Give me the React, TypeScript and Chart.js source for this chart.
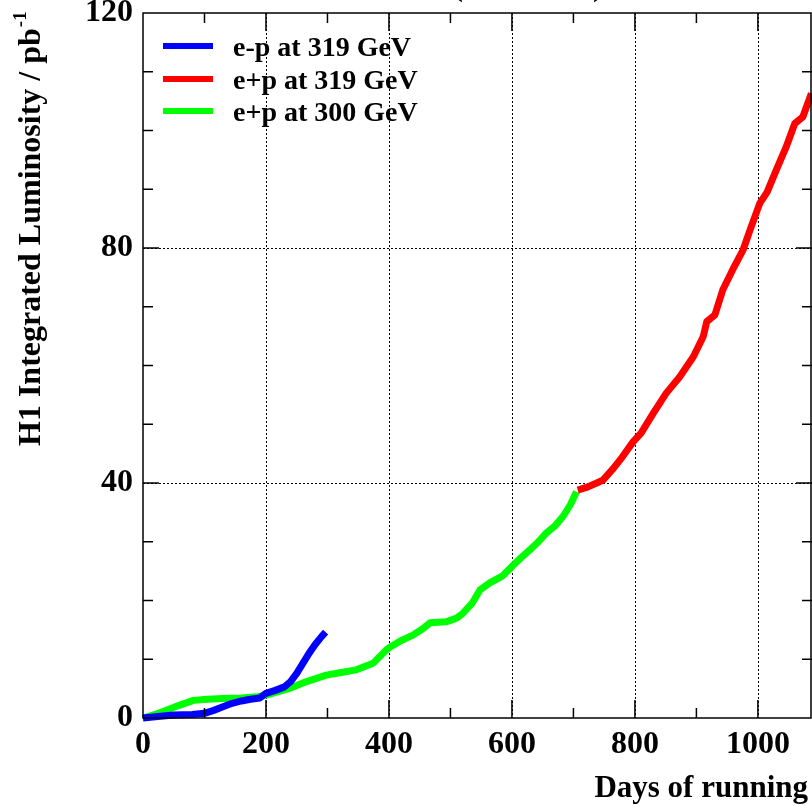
import React, { useEffect, useRef } from "react";
import { Chart, registerables } from "chart.js";

Chart.register(...registerables);

// e-p at 319 GeV
const epDays = [0, 20, 50, 80, 100, 115, 130, 145, 160, 175, 190, 200, 215, 230, 240, 250, 260, 270, 280, 290, 297];
const epLumi = [0, 0.2, 0.5, 0.6, 0.8, 1.3, 1.9, 2.5, 2.9, 3.2, 3.4, 4.2, 4.7, 5.3, 6.2, 7.6, 9.3, 11.0, 12.5, 13.8, 14.6];

// e+p at 300 GeV
const ep300Days = [0, 20, 40, 60, 82, 104, 130, 160, 185, 200, 220, 240, 266, 298, 320, 347, 374, 396, 402, 420, 439, 455, 467, 480, 494, 510, 520, 535, 548, 564, 585, 602, 615, 629, 643, 656, 670, 683, 695, 705];
const ep300Lumi = [0, 0.6, 1.4, 2.2, 3.0, 3.2, 3.3, 3.4, 3.6, 3.9, 4.5, 5.1, 6.2, 7.3, 7.7, 8.2, 9.3, 11.6, 12.1, 13.2, 14.1, 15.2, 16.2, 16.3, 16.4, 17.0, 17.8, 19.5, 21.8, 23.0, 24.2, 26.0, 27.3, 28.6, 30.0, 31.5, 32.7, 34.3, 36.3, 38.5];

// e+p at 319 GeV
const ep319Days = [707, 720, 738, 748, 765, 780, 797, 810, 830, 851, 873, 895, 911, 917, 930, 943, 959, 976, 987, 1003, 1015, 1030, 1046, 1060, 1073, 1087];
const ep319Lumi = [38.8, 39.2, 40.0, 40.5, 42.5, 44.5, 47.0, 48.5, 51.9, 55.3, 58.1, 61.5, 64.9, 67.5, 68.6, 72.9, 76.3, 79.7, 83.0, 87.6, 89.5, 93.3, 97.2, 101.2, 102.3, 106.3];

const seriesLabels = ["e-p at 319 GeV", "e+p at 319 GeV", "e+p at 300 GeV"];
const seriesColors = ["#0000ff", "#ff0000", "#00ff00"];

const xGridValues = [200, 400, 600, 800, 1000];
const yGridValues = [40, 80];
const xTitle = "Days of running";
const yTitle = "H1 Integrated Luminosity / pb";
const yTitleSup = "-1";

const SERIF = "'Liberation Serif', 'Times New Roman', serif";

const toPts = (xs: number[], ys: number[]) => xs.map((x, i) => ({ x, y: ys[i] }));

const decorPlugin = {
  id: "decor",
  beforeDatasetsDraw(chart: any) {
    const { ctx, chartArea: a, scales } = chart;
    const xs = scales.x, ys = scales.y;
    ctx.save();
    ctx.strokeStyle = "#000";
    ctx.lineWidth = 1;
    ctx.setLineDash([2, 2]);
    xGridValues.forEach((v) => {
      const p = Math.round(xs.getPixelForValue(v)) + 0.5;
      ctx.beginPath();
      ctx.moveTo(p, a.top);
      ctx.lineTo(p, a.bottom);
      ctx.stroke();
    });
    yGridValues.forEach((v) => {
      const p = Math.round(ys.getPixelForValue(v)) + 0.5;
      ctx.beginPath();
      ctx.moveTo(a.left, p);
      ctx.lineTo(a.right, p);
      ctx.stroke();
    });
    ctx.restore();
  },
  afterDatasetsDraw(chart: any) {
    const { ctx, chartArea: a, scales } = chart;
    const xs = scales.x, ys = scales.y;
    ctx.save();
    ctx.setLineDash([]);
    ctx.strokeStyle = "#000";
    ctx.lineWidth = 1.5;
    ctx.strokeRect(a.left, a.top, a.right - a.left - 1, a.bottom - a.top);
    // ticks
    ctx.lineWidth = 1.5;
    for (let v = 100; v <= 1000; v += 100) {
      const p = xs.getPixelForValue(v);
      const len = v % 200 === 0 ? 18 : 10;
      ctx.beginPath();
      ctx.moveTo(p, a.bottom);
      ctx.lineTo(p, a.bottom - len);
      ctx.moveTo(p, a.top);
      ctx.lineTo(p, a.top + len);
      ctx.stroke();
    }
    for (let v = 10; v < 120; v += 10) {
      const p = ys.getPixelForValue(v);
      const len = v % 40 === 0 ? 16 : 10;
      ctx.beginPath();
      ctx.moveTo(a.left, p);
      ctx.lineTo(a.left + len, p);
      ctx.moveTo(a.right, p);
      ctx.lineTo(a.right - len, p);
      ctx.stroke();
    }
    // legend
    const rows = [46, 79, 111];
    chart.data.datasets.forEach((ds: any, i: number) => {
      const y = rows[i];
      ctx.strokeStyle = ds.borderColor;
      ctx.lineWidth = 6;
      ctx.beginPath();
      ctx.moveTo(163, y);
      ctx.lineTo(213, y);
      ctx.stroke();
      ctx.fillStyle = "#000";
      ctx.font = `bold 28px ${SERIF}`;
      ctx.textAlign = "left";
      ctx.textBaseline = "alphabetic";
      ctx.fillText(ds.label, 233, y + 10);
    });
    // axis titles
    ctx.fillStyle = "#000";
    ctx.font = `bold 31px ${SERIF}`;
    ctx.textAlign = "right";
    ctx.textBaseline = "alphabetic";
    ctx.fillText(xTitle, 808, 797);

    ctx.save();
    ctx.translate(40, 446);
    ctx.rotate(-Math.PI / 2);
    ctx.textAlign = "left";
    ctx.font = `bold 32px ${SERIF}`;
    ctx.fillText(yTitle, 0, 0);
    const w = ctx.measureText(yTitle).width;
    ctx.font = `bold 19px ${SERIF}`;
    ctx.fillText(yTitleSup, w + 1, -14);
    ctx.restore();

    // cut-off title remnants
    ctx.font = `bold 30px ${SERIF}`;
    ctx.textAlign = "center";
    ctx.fillText("(", 458, -4);
    ctx.fillText(")", 598, -4);
    ctx.restore();
  },
};

export default function App() {
  const ref = useRef<HTMLCanvasElement>(null);
  useEffect(() => {
    document.body.style.margin = "0";
    document.body.style.overflow = "hidden";
    const canvas = ref.current!;
    const chart = new Chart(canvas, {
      type: "line",
      data: {
        datasets: [
          { label: seriesLabels[0], data: toPts(epDays, epLumi), borderColor: seriesColors[0], backgroundColor: seriesColors[0] },
          { label: seriesLabels[1], data: toPts(ep319Days, ep319Lumi), borderColor: seriesColors[1], backgroundColor: seriesColors[1] },
          { label: seriesLabels[2], data: toPts(ep300Days, ep300Lumi), borderColor: seriesColors[2], backgroundColor: seriesColors[2] },
        ].map((d) => ({ ...d, borderWidth: 7, pointRadius: 0, tension: 0, fill: false, clip: false as any, borderJoinStyle: "round" as any, borderCapStyle: "butt" as any })),
      },
      options: {
        animation: false,
        responsive: false,
        devicePixelRatio: 1,
        layout: { padding: { top: 13, right: 0, left: 0, bottom: 0 } },
        plugins: { legend: { display: false }, tooltip: { enabled: false }, title: { display: false } },
        scales: {
          x: {
            type: "linear",
            min: 0,
            max: 1088,
            grid: { display: false, drawTicks: false, tickLength: 0 },
            border: { display: false },
            ticks: {
              stepSize: 200,
              includeBounds: false,
              color: "#000",
              font: { family: SERIF, size: 32, weight: "bold" },
              padding: 8,
              maxRotation: 0,
              autoSkip: false,
              callback: (v: any) => String(v),
            },
            afterFit: (s: any) => { s.height = 88; s.paddingLeft = 0; s.paddingRight = 0; },
          },
          y: {
            type: "linear",
            min: 0,
            max: 120,
            grid: { display: false, drawTicks: false, tickLength: 0 },
            border: { display: false },
            ticks: {
              stepSize: 40,
              color: "#000",
              font: { family: SERIF, size: 32, weight: "bold" },
              padding: 10,
              autoSkip: false,
              callback: (v: any) => String(v),
            },
            afterFit: (s: any) => { s.width = 143; s.paddingTop = 0; s.paddingBottom = 0; },
          },
        },
      },
      plugins: [decorPlugin],
    });
    return () => chart.destroy();
  }, []);
  return (
    <div style={{ width: 812, height: 806 }}>
      <canvas ref={ref} width={812} height={806} style={{ display: "block", width: 812, height: 806 }} />
    </div>
  );
}
